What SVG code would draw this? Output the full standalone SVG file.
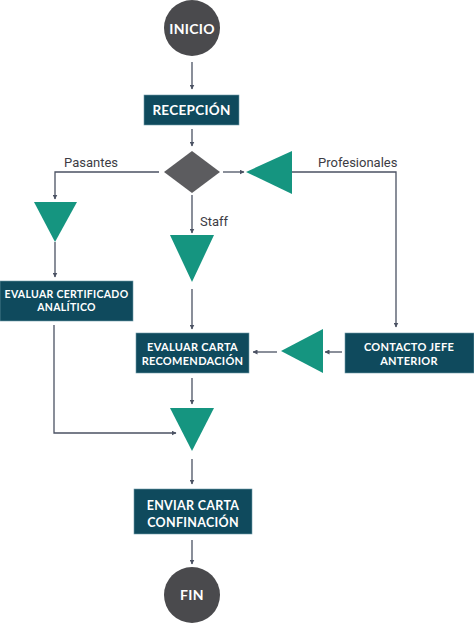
<svg xmlns="http://www.w3.org/2000/svg" width="474" height="623" viewBox="0 0 474 623">
<defs>
<marker id="ah" viewBox="0 0 10 10" refX="9" refY="5" markerWidth="5" markerHeight="5" orient="auto" markerUnits="userSpaceOnUse">
<path d="M0,0 L10,5 L0,10 z" fill="#4b5263"/>
</marker>
<style>
.box{fill:#0f4a5d;stroke:#6f9aa8;stroke-width:0.6}
.tri{fill:#159580}
.circ{fill:#4a4a4d}
.dia{fill:#5c5c5f}
.lbl{font-family:Lato,"Open Sans",sans-serif;font-weight:bold;fill:#ffffff;text-anchor:middle;letter-spacing:0.3px}
.edge{font-family:Roboto,"Liberation Sans",sans-serif;font-size:13px;fill:#3c3c44}
.ln{fill:none;stroke:#4b5263;stroke-width:1.3}
.ar{marker-end:url(#ah)}
</style>
</defs>
<rect width="474" height="623" fill="#ffffff"/>

<g id="connectors">
<line class="ln ar" x1="192" y1="62" x2="192" y2="89"/>
<line class="ln ar" x1="192" y1="129" x2="192" y2="146"/>
<polyline class="ln ar" points="159,172 55,172 55,199"/>
<line class="ln ar" x1="223" y1="172" x2="244" y2="172"/>
<polyline class="ln ar" points="292,172 396,172 396,327"/>
<line class="ln ar" x1="192" y1="195" x2="192" y2="233"/>
<line class="ln ar" x1="55" y1="242" x2="55" y2="277"/>
<line class="ln ar" x1="192" y1="289" x2="192" y2="329"/>
<line class="ln ar" x1="342" y1="352" x2="325" y2="352"/>
<line class="ln ar" x1="277" y1="352" x2="253" y2="352"/>
<line class="ln ar" x1="192" y1="378" x2="192" y2="404"/>
<polyline class="ln ar" points="54,325 54,433 176,433"/>
<line class="ln ar" x1="192" y1="459" x2="192" y2="484"/>
<line class="ln ar" x1="192" y1="540" x2="192" y2="564"/>
<text class="edge" x="64" y="167">Pasantes</text>
<text class="edge" x="318" y="167">Profesionales</text>
<text class="edge" x="200" y="226">Staff</text>
</g>

<g id="inicio">
<circle class="circ" cx="192" cy="28" r="28"/>
<text class="lbl" x="192" y="33.5" font-size="14">INICIO</text>
</g>

<g id="recepcion">
<rect class="box" x="144" y="95" width="95" height="30"/>
<text class="lbl" x="191.5" y="115" font-size="13.5">RECEPCIÓN</text>
</g>

<g id="decision">
<polygon class="dia" points="164,172 192,151 220,172 192,193"/>
</g>

<g id="tri-pasantes">
<polygon class="tri" points="34,202 77,202 55,242"/>
</g>

<g id="tri-profesionales">
<polygon class="tri" points="246,172 292,151 292,194"/>
</g>

<g id="tri-staff">
<polygon class="tri" points="170,235 214,235 192,282"/>
</g>

<g id="evaluar-certificado">
<rect class="box" x="0" y="281" width="133" height="40"/>
<text class="lbl" x="66.5" y="298" font-size="10.5">EVALUAR CERTIFICADO</text>
<text class="lbl" x="66.5" y="311" font-size="10.5">ANALÍTICO</text>
</g>

<g id="evaluar-carta">
<rect class="box" x="136" y="333" width="113" height="40"/>
<text class="lbl" x="192.5" y="351" font-size="11">EVALUAR CARTA</text>
<text class="lbl" x="192.5" y="365" font-size="11">RECOMENDACIÓN</text>
</g>

<g id="tri-contacto">
<polygon class="tri" points="281,351 323,329 323,373"/>
</g>

<g id="contacto-jefe">
<rect class="box" x="345" y="333" width="129" height="40"/>
<text class="lbl" x="409" y="351" font-size="11">CONTACTO JEFE</text>
<text class="lbl" x="409" y="365" font-size="11">ANTERIOR</text>
</g>

<g id="tri-merge">
<polygon class="tri" points="170,408 214,408 192,451"/>
</g>

<g id="enviar-carta">
<rect class="box" x="134" y="489" width="118" height="45"/>
<text class="lbl" x="193" y="510" font-size="12.5">ENVIAR CARTA</text>
<text class="lbl" x="193" y="527" font-size="12.5">CONFINACIÓN</text>
</g>

<g id="fin">
<circle class="circ" cx="192" cy="595" r="28"/>
<text class="lbl" x="192" y="600" font-size="14">FIN</text>
</g>
</svg>
